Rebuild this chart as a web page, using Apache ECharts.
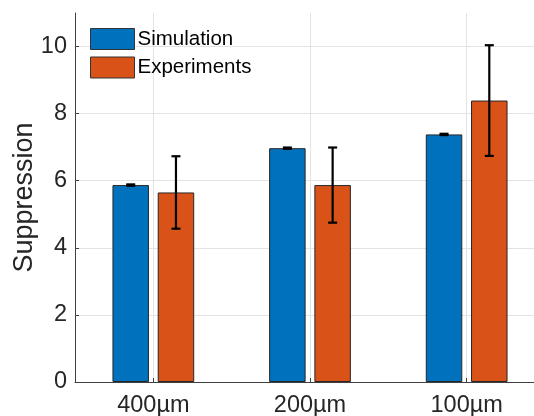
<!DOCTYPE html>
<html>
<head>
<meta charset="utf-8">
<script src="https://cdn.jsdelivr.net/npm/echarts@6/dist/echarts.min.js"></script>
<style>
  html, body { margin: 0; padding: 0; background: #fff; }
  #chart { width: 534px; height: 416px; }
</style>
</head>
<body>
<div id="chart"></div>
<script>
// data
const categories = ['400µm', '200µm', '100µm'];
const simulation = [5.87, 6.97, 7.38];
const simulationErr = [0.02, 0.02, 0.02];
const experiments = [5.65, 5.87, 8.39];
const experimentsErr = [1.08, 1.12, 1.65];

const BAR_W = 36.5;
const BAR_GAP = 0.24;
const OFFSET = (BAR_W + BAR_W * BAR_GAP) / 2;
const FONT = '"Liberation Sans", Arial, Helvetica, sans-serif';

function errData(vals, errs) {
  return vals.map(function (v, i) { return [i, v - errs[i], v + errs[i]]; });
}

function errSeries(name, data, shift) {
  return {
    name: name,
    type: 'custom',
    z: 5,
    silent: true,
    data: data,
    encode: { x: 0, y: [1, 2] },
    renderItem: function (params, api) {
      const lo = api.coord([api.value(0), api.value(1)]);
      const hi = api.coord([api.value(0), api.value(2)]);
      const x = lo[0] + shift;
      const cap = 4.5;
      const style = { stroke: '#000', lineWidth: 2.2 };
      return {
        type: 'group',
        children: [
          { type: 'line', shape: { x1: x, y1: lo[1], x2: x, y2: hi[1] }, style: style },
          { type: 'line', shape: { x1: x - cap, y1: lo[1], x2: x + cap, y2: lo[1] }, style: style },
          { type: 'line', shape: { x1: x - cap, y1: hi[1], x2: x + cap, y2: hi[1] }, style: style }
        ]
      };
    }
  };
}

const chart = echarts.init(document.getElementById('chart'), null, { renderer: 'canvas' });
chart.setOption({
  animation: false,
  backgroundColor: '#fff',
  textStyle: { fontFamily: FONT },
  grid: { left: 75, top: 13, width: 470, height: 369, outerBoundsMode: 'none', containLabel: false },
  legend: {
    data: ['Simulation', 'Experiments'],
    orient: 'vertical',
    left: 90,
    top: 28,
    padding: 0,
    itemWidth: 44,
    itemHeight: 21,
    itemGap: 6.5,
    icon: 'rect',
    itemStyle: { borderColor: '#333', borderWidth: 1 },
    textStyle: { fontSize: 20.5, color: '#000', fontFamily: FONT, padding: [4, 0, 0, -2] }
  },
  xAxis: {
    type: 'category',
    data: categories,
    axisLine: { lineStyle: { color: '#404040', width: 1 } },
    axisTick: { show: true, inside: true, length: 4, alignWithLabel: true, lineStyle: { color: '#404040' } },
    axisLabel: { fontSize: 23.5, color: '#262626', margin: 12, fontFamily: FONT },
    splitLine: { show: true, alignWithLabel: true, lineStyle: { color: '#e3e3e3', width: 1 } }
  },
  yAxis: {
    type: 'value',
    min: 0,
    max: 11,
    interval: 2,
    name: 'Suppression',
    nameLocation: 'middle',
    nameGap: 37,
    nameMoveOverlap: false,
    nameTextStyle: { fontSize: 27, color: '#262626', fontFamily: FONT },
    axisLine: { show: true, lineStyle: { color: '#404040', width: 1 } },
    axisTick: { show: true, inside: true, length: 4, lineStyle: { color: '#404040' } },
    axisLabel: { fontSize: 23.5, color: '#262626', margin: 8, showMaxLabel: false, fontFamily: FONT },
    splitLine: { show: true, showMaxLine: false, lineStyle: { color: '#e3e3e3', width: 1 } }
  },
  series: [
    {
      name: 'Simulation',
      type: 'bar',
      data: simulation,
      barWidth: BAR_W,
      barGap: (BAR_GAP * 100) + '%',
      itemStyle: { color: '#0072BD', borderColor: '#262626', borderWidth: 1 }
    },
    {
      name: 'Experiments',
      type: 'bar',
      data: experiments,
      barWidth: BAR_W,
      barGap: (BAR_GAP * 100) + '%',
      itemStyle: { color: '#D95319', borderColor: '#262626', borderWidth: 1 }
    },
    errSeries('simErr', errData(simulation, simulationErr), -OFFSET),
    errSeries('expErr', errData(experiments, experimentsErr), OFFSET)
  ]
});
</script>
</body>
</html>
